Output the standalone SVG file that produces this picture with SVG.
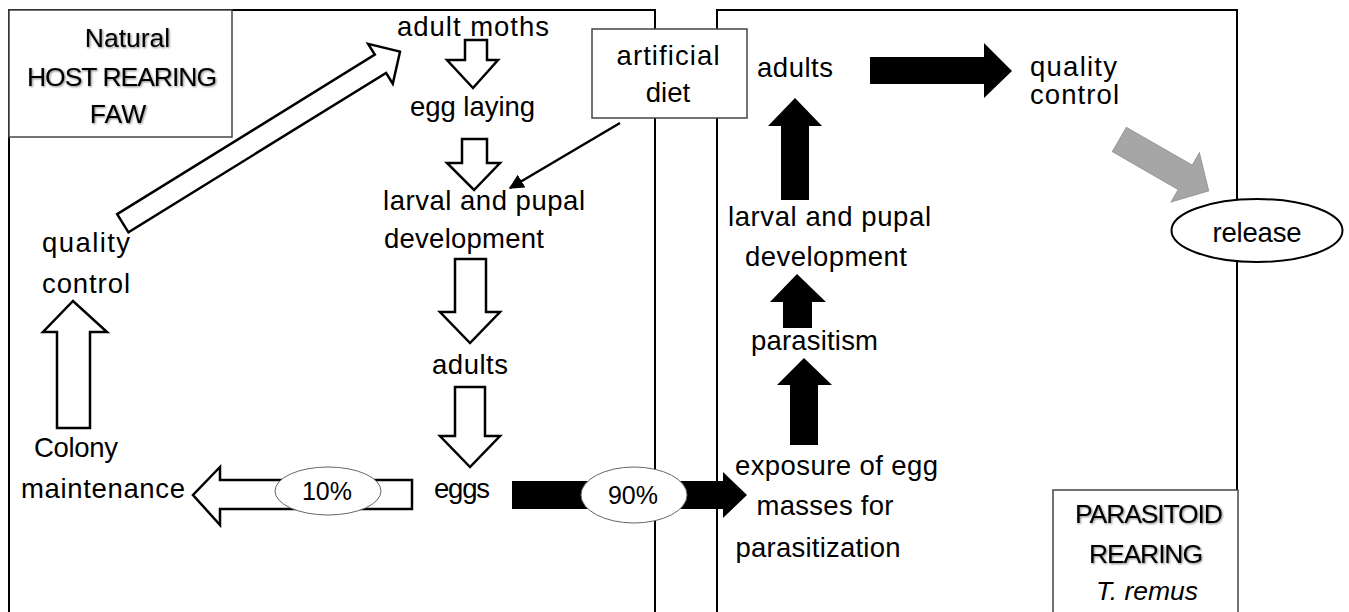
<svg xmlns="http://www.w3.org/2000/svg" width="1349" height="612" viewBox="0 0 1349 612">
<style>
text{font-family:"Liberation Sans",Arial,sans-serif;font-size:27.5px;fill:#000}
.m{text-anchor:middle}
.title{font-size:26.5px}
.pct{font-size:25px}
.frame{fill:none;stroke:#000;stroke-width:2}
.box{fill:#fff;stroke:#444;stroke-width:1.5}
.hollow{fill:#fff;stroke:#000;stroke-width:2.5;stroke-linejoin:miter}
.solid{fill:#000;stroke:none}
.gray{fill:#a6a6a6;stroke:#999;stroke-width:1}
.lbl{fill:#fff;stroke:#666;stroke-width:1}
</style>
<defs>
<filter id="sh" x="-10%" y="-30%" width="130%" height="160%">
<feGaussianBlur in="SourceAlpha" stdDeviation="1"/>
<feOffset dx="1" dy="1" result="b"/>
<feComponentTransfer><feFuncA type="linear" slope="0.5"/></feComponentTransfer>
<feMerge><feMergeNode/><feMergeNode in="SourceGraphic"/></feMerge>
</filter>
<marker id="ah" viewBox="0 0 10 10" refX="9" refY="5" markerWidth="6" markerHeight="6" orient="auto" markerUnits="strokeWidth">
<path d="M0,0 L10,5 L0,10 z" fill="#000"/>
</marker>
</defs>
<rect width="1349" height="612" fill="#fff"/>

<g id="panels">
<path class="frame" d="M9,612 V10 H655 V612"/>
<path class="frame" d="M717,612 V10 H1237 V490"/>
</g>

<g id="title-host">
<rect class="box" x="9" y="10" width="223" height="127"/>
<g filter="url(#sh)">
<text class="m title" x="127.5" y="47">Natural</text>
<text class="m title" x="122" y="86" textLength="190">HOST REARING</text>
<text class="m title" x="118" y="123">FAW</text>
</g>
</g>

<g id="title-parasitoid">
<rect class="box" x="1053" y="490" width="185" height="130"/>
<g filter="url(#sh)">
<text class="m title" x="1149" y="523" textLength="148">PARASITOID</text>
<text class="m title" x="1146" y="563" textLength="114">REARING</text>
</g>
<text class="m title" x="1147" y="600" font-style="italic">T. remus</text>
</g>

<g id="connectors">
<polygon class="hollow" points="465,40 487,40 487,60 498,60 473,88 447,60 465,60"/>
<polygon class="hollow" points="462,139 487,139 487,163 500,163 474,190 447,163 462,163"/>
<polygon class="hollow" points="455,259 486,259 486,312 500,312 470,343 440,312 455,312"/>
<polygon class="hollow" points="455,387 485,387 485,436 500,436 470,467 440,436 455,436"/>
<polygon class="hollow" points="57,428 90,428 90,332 107,332 73,301 43,332 57,332"/>
<polygon class="hollow" points="412,480 412,509 220,509 220,525 193,495 220,467 220,480"/>
<polygon class="hollow" transform="translate(122.8,223.2) rotate(-31.75)" points="0,-10.7 303,-10.7 303,-23.4 326,0 303,23.4 303,10.7 0,10.7"/>
<line x1="620" y1="123" x2="510" y2="188" stroke="#000" stroke-width="2.5" marker-end="url(#ah)"/>
<polygon class="solid" points="512,481 723,481 723,472 747,495 723,518 723,509 512,509"/>
<polygon class="solid" points="790,445 818,445 818,385 832,385 804,358 777,385 790,385"/>
<polygon class="solid" points="783,328 812,328 812,302 826,302 797,274 770,302 783,302"/>
<polygon class="solid" points="781,200 809,200 809,126 822,126 795,98 768,126 781,126"/>
<polygon class="solid" points="870,57 984,57 984,43 1012,71 984,98 984,84 870,84"/>
<polygon class="gray" transform="translate(1119.4,139.5) rotate(29.9)" points="0,-14 76,-14 76,-28.3 103,0 76,28.3 76,14 0,14"/>
</g>

<g id="ellipses">
<g id="pct10">
<ellipse class="lbl" cx="328" cy="491" rx="53" ry="24"/>
<text class="m pct" x="327" y="500">10%</text>
</g>
<g id="pct90">
<ellipse class="lbl" cx="634" cy="495" rx="53" ry="28"/>
<text class="m pct" x="633" y="504">90%</text>
</g>
<g id="release">
<ellipse cx="1257" cy="230.5" rx="85.5" ry="31.5" fill="#fff" stroke="#000" stroke-width="2"/>
<text class="m" x="1257" y="242" textLength="89">release</text>
</g>
</g>

<g id="artificial-diet">
<rect class="box" x="592" y="29" width="155" height="89" stroke="#222"/>
<text class="m" x="668" y="65" textLength="103">artificial</text>
<text class="m" x="668" y="102">diet</text>
</g>

<g id="adult-moths"><text class="m" x="473" y="36" textLength="152">adult moths</text></g>
<g id="egg-laying"><text class="m" x="472.5" y="116" textLength="125">egg laying</text></g>
<g id="larval-left">
<text class="m" x="484" y="210" textLength="202">larval and pupal</text>
<text class="m" x="464" y="248" textLength="160">development</text>
</g>
<g id="adults-left"><text class="m" x="470" y="374" textLength="76">adults</text></g>
<g id="eggs"><text class="m" x="462" y="498" textLength="56">eggs</text></g>
<g id="quality-left">
<text class="m" x="86" y="252" textLength="88">quality</text>
<text class="m" x="86" y="293" textLength="88">control</text>
</g>
<g id="colony">
<text class="m" x="76" y="457" textLength="84">Colony</text>
<text class="m" x="103" y="498" textLength="164">maintenance</text>
</g>
<g id="adults-right"><text class="m" x="795" y="77" textLength="76">adults</text></g>
<g id="quality-right">
<text x="1030" y="76" textLength="87" font-size="24.5">quality</text>
<text x="1030" y="104" textLength="89" font-size="24.5">control</text>
</g>
<g id="larval-right">
<text class="m" x="829.5" y="226" textLength="203">larval and pupal</text>
<text class="m" x="826" y="266" textLength="162">development</text>
</g>
<g id="parasitism"><text class="m" x="814.5" y="350" textLength="127">parasitism</text></g>
<g id="exposure">
<text class="m" x="836.5" y="475" textLength="203">exposure of egg</text>
<text class="m" x="825" y="515" textLength="137">masses for</text>
<text class="m" x="818" y="557" textLength="165">parasitization</text>
</g>
</svg>
